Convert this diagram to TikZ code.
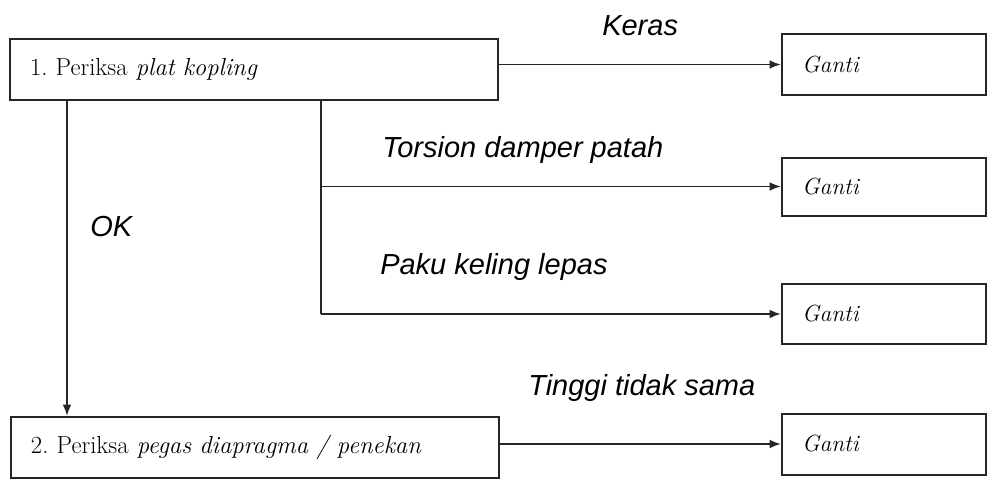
\documentclass[tikz,border=0pt]{standalone}
\usepackage{fontspec}
\newfontfamily\lblfont{Liberation Sans}
\usetikzlibrary{arrows.meta,calc}
\frenchspacing
\tikzset{
  box/.style={draw=black!85, line width=1.5pt, rectangle, inner ysep=0pt, inner xsep=0pt, align=left,
    font=\fontsize{18.5}{20}\selectfont},
  bigbox/.style={box, minimum width={488*0.75pt}, text width={448*0.75pt}, minimum height={61*0.75pt}},
  gbox/.style={box, minimum width={204*0.75pt}, text width={164*0.75pt}, minimum height={61*0.75pt},
    font=\fontsize{17.5}{20}\selectfont},
  arr/.style={draw=black!85, line width=1.4pt, -{Latex[length=8.5pt,width=6.5pt]}},
  lnk/.style={draw=black!85, line width=1.4pt},
  lbl/.style={anchor=base west, inner sep=0pt, font=\lblfont\itshape\fontsize{21.75}{24}\selectfont}
}
\begin{document}
\begin{tikzpicture}[x=0.75pt,y=-0.75pt]
\useasboundingbox (0,0) rectangle (1000,487);
\node[bigbox] (b1) at (254,69) {1. Periksa \textit{plat kopling}};
\node[bigbox] (b2) at (255,447.5) {2. Periksa \textit{pegas diapragma / penekan}};
\node[gbox] (g1) at (884,64.5) {\textit{Ganti}};
\node[gbox, minimum height={58*0.75pt}] (g2) at (884,186.5) {\textit{Ganti}};
\node[gbox, minimum height={60*0.75pt}] (g3) at (884,314) {\textit{Ganti}};
\node[gbox] (g4) at (884,444) {\textit{Ganti}};
\draw[arr] (b1.east |- g1.west) -- (g1.west);
\draw[arr] ([xshift={58*0.75pt}]b1.south west) coordinate (okt) -- (okt |- b2.north);
\coordinate (br) at ([xshift={312*0.75pt}]b1.south west);
\draw[lnk] (br) -- (br |- g3.west);
\draw[arr] (br |- g2.west) -- (g2.west);
\draw[arr] (br |- g3.west) -- (g3.west);
\draw[arr] (b2.east |- g4.west) -- (g4.west);
\node[lbl] (lk) at (602,35) {Keras};
\node[lbl] (lok) at (90,236) {OK};
\node[lbl] (lt) at (382,157) {Torsion damper patah};
\node[lbl] (lp) at (380,274) {Paku keling lepas};
\node[lbl] (lg) at (528,395) {Tinggi tidak sama};
\end{tikzpicture}
\end{document}
